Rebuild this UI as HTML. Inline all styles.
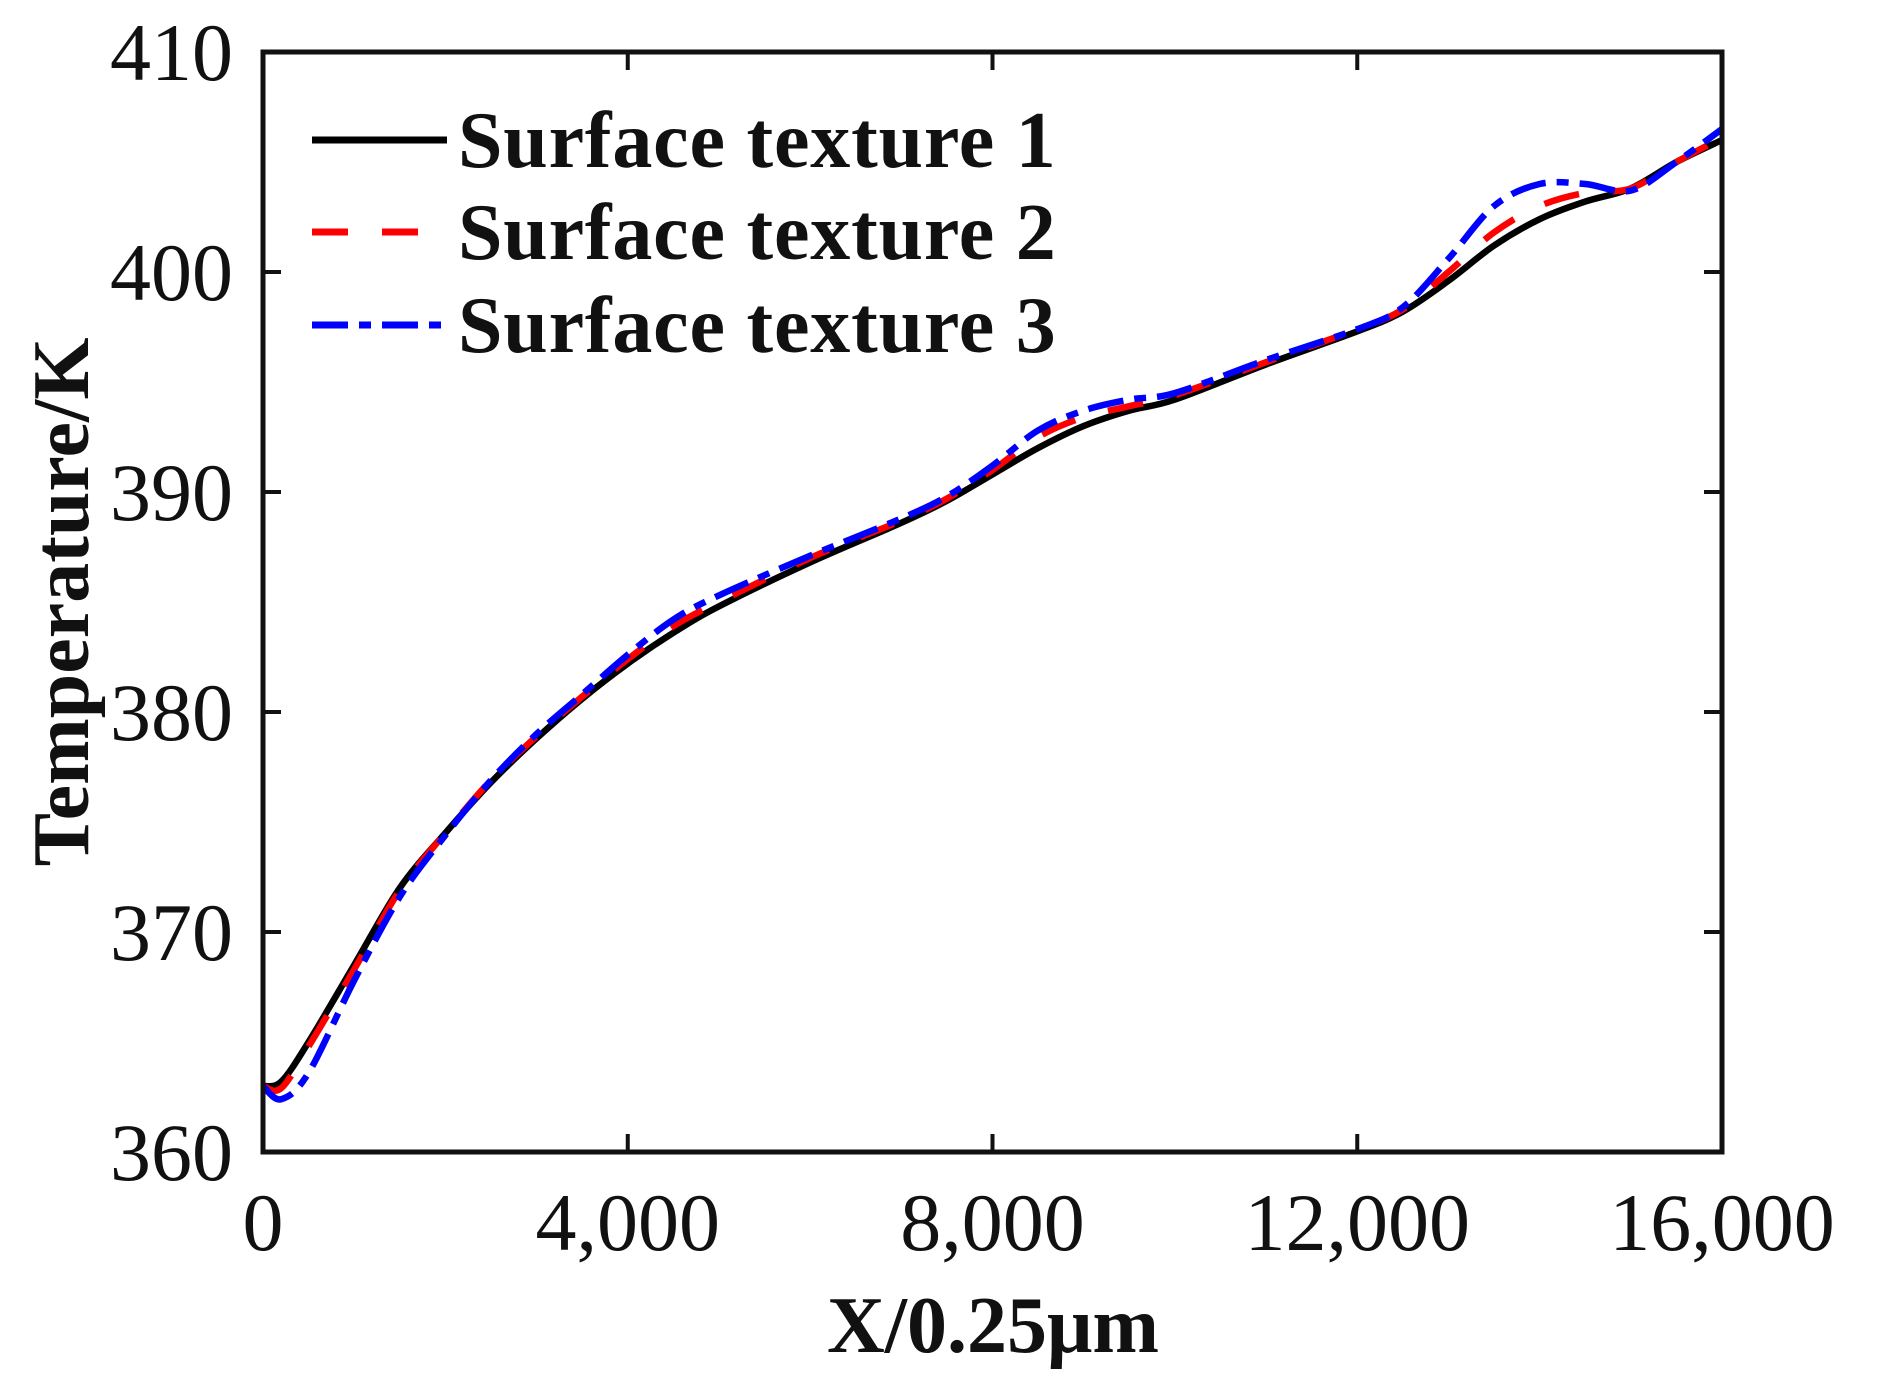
<!DOCTYPE html>
<html><head><meta charset="utf-8"><style>
body{margin:0;background:#fff;width:1880px;height:1400px;overflow:hidden}
svg{display:block}
text{font-family:"Liberation Serif",serif;fill:#111}
</style></head><body>
<svg id="chart" width="1880" height="1400" xmlns="http://www.w3.org/2000/svg"></svg>
<script>
const xValues=[0,200,500,1000,1500,2000,2500,3000,3500,4000,4500,5000,6000,7000,7500,8000,8500,9000,9500,10000,11000,12000,12500,13000,13500,14000,14500,15000,15500,16000];
const texture1=[363,363.2,365,368.5,372,374.5,376.8,378.8,380.6,382.2,383.6,384.8,386.8,388.6,389.6,390.8,392,393,393.7,394.2,395.8,397.3,398.2,399.6,401.2,402.4,403.2,403.8,405,406];
const texture2=[363,362.9,364.8,368.3,371.9,374.5,376.9,378.9,380.7,382.4,383.9,385,387,388.7,389.7,391,392.5,393.4,393.9,394.4,395.9,397.4,398.3,400,401.8,403,403.6,403.8,405,406.1];
const texture3=[363,362.4,363.6,367.8,371.6,374.4,376.9,379,380.8,382.6,384.2,385.3,387.1,388.8,389.8,391.2,392.8,393.7,394.2,394.5,396,397.4,398.4,400.6,403,404,404,403.7,405,406.5];
const xTicks=[0,4000,8000,12000,16000];
const xTickLabels=["0","4,000","8,000","12,000","16,000"];
const yTicks=[360,370,380,390,400,410];
const yTickLabels=["360","370","380","390","400","410"];
const seriesNames=["Surface texture 1","Surface texture 2","Surface texture 3"];

const L=263,R=1722,T=52,B=1152;
const X=v=>L+(v-0)/(16000-0)*(R-L);
const Y=v=>B-(v-360)/(410-360)*(B-T);
const svg=document.getElementById('chart');
const NS='http://www.w3.org/2000/svg';
function mk(tag,attrs,parent){const e=document.createElementNS(NS,tag);for(const k in attrs)e.setAttribute(k,attrs[k]);(parent||svg).appendChild(e);return e;}

xTicks.forEach((t,i)=>{
  const tk=mk('line',{x1:X(t),x2:X(t),y1:B,y2:B-18,stroke:'#111','stroke-width':4});
  
  
  const tk2=mk('line',{x1:X(t),x2:X(t),y1:T,y2:T+18,stroke:'#111','stroke-width':4});
  
  
  const lb=mk('text',{x:X(t),y:1250,'font-size':82,'text-anchor':'middle'});
  lb.textContent=xTickLabels[i];
  
  
});
yTicks.forEach((t,i)=>{
  const tk=mk('line',{x1:L,x2:L+18,y1:Y(t),y2:Y(t),stroke:'#111','stroke-width':4});
  
  
  const tk2=mk('line',{x1:R,x2:R-18,y1:Y(t),y2:Y(t),stroke:'#111','stroke-width':4});
  
  
  const lb=mk('text',{x:233,y:Y(t)+28,'font-size':82,'text-anchor':'end'});
  lb.textContent=yTickLabels[i];
  
  
});

function smoothPath(xs,ys){
  const p=xs.map((x,i)=>[X(x),Y(ys[i])]);
  let d='M'+p[0][0]+','+p[0][1];
  for(let i=0;i<p.length-1;i++){
    const p0=p[i-1]||p[i],p1=p[i],p2=p[i+1],p3=p[i+2]||p[i+1];
    const c1=[p1[0]+(p2[0]-p0[0])/6,p1[1]+(p2[1]-p0[1])/6];
    const c2=[p2[0]-(p3[0]-p1[0])/6,p2[1]-(p3[1]-p1[1])/6];
    d+=' C'+c1[0]+','+c1[1]+' '+c2[0]+','+c2[1]+' '+p2[0]+','+p2[1];
  }
  return d;
}
const styles=[{c:'#000',dash:''},{c:'#ff0000',dash:'36 34'},{c:'#0000ff',dash:'36 11 12 11'}];
[texture1,texture2,texture3].forEach((s,i)=>{
  const p=mk('path',{d:smoothPath(xValues,s),fill:'none',stroke:styles[i].c,'stroke-width':6.5,'stroke-dasharray':styles[i].dash});
  
  
});

const fr=mk('rect',{x:L,y:T,width:R-L,height:B-T,fill:'none',stroke:'#111','stroke-width':5});



const legY=[140,232,325];
seriesNames.forEach((n,i)=>{
  const ln=mk('line',{x1:312,x2:447,y1:legY[i],y2:legY[i],stroke:styles[i].c,'stroke-width':7,'stroke-dasharray':styles[i].dash});
  
  
  const t=mk('text',{x:458,y:legY[i]+27,'font-size':80,'font-weight':'bold','letter-spacing':0.8});
  t.textContent=n;
  
  
});

const xt=mk('text',{x:993,y:1352,'font-size':80,'font-weight':'bold','text-anchor':'middle'});
xt.textContent='X/0.25μm';


const yt=mk('text',{x:0,y:0,'font-size':80,'font-weight':'bold','text-anchor':'middle',transform:'translate(88,602) rotate(-90)'});
yt.textContent='Temperature/K';


</script>
</body></html>
